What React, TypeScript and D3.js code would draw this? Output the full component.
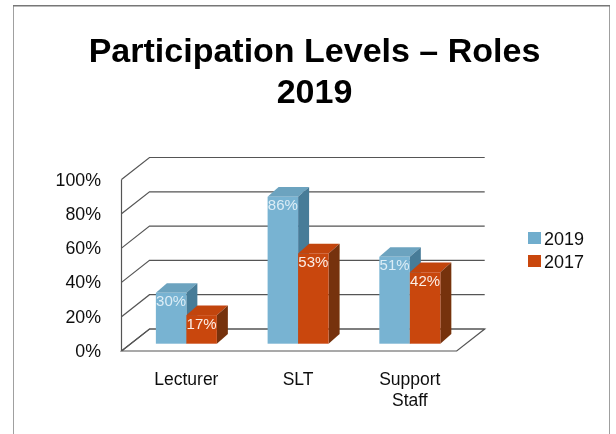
import React from "react";
import * as d3 from "d3";

const categories = [["Lecturer"], ["SLT"], ["Support", "Staff"]];
const seriesNames = ["2019", "2017"];
const values2019 = [30, 86, 51];
const values2017 = [17, 53, 42];
const yTicks = [0, 20, 40, 60, 80, 100];

const W = 616, H = 434;
const FONT = "'Liberation Sans', Arial, sans-serif";
const plotLeft = 121.5, plotRight = 456.7, plotBottom = 351, plotTop = 179.5;
const wallDx = 28, wallDy = -22;
const barDx = 11, barDy = -9.7;
const barBaseLift = 7.3;

const palette = [
  { front: "#78b3d2", top: "#6ca3bf", side: "#477b98", legend: "#6fadcd" },
  { front: "#c9470f", top: "#c2440f", side: "#76320a", legend: "#c9470f" },
];

const y = d3.scaleLinear().domain([0, 100]).range([plotBottom, plotTop]);
const x0 = d3.scaleBand<number>().domain([0, 1, 2]).range([plotLeft, plotRight]).paddingInner(0).paddingOuter(0);
const barsWidth = 61;
const x1 = d3.scaleBand<number>().domain([0, 1]).range([0, barsWidth]);
const groupLeft = (i: number) => (x0(i) as number) + x0.bandwidth() / 2 - barsWidth / 2 + 9;
const path = d3.line();

function Bar({ cat, ser, value }: { cat: number; ser: number; value: number }) {
  const c = palette[ser];
  const l = groupLeft(cat) + (x1(ser) as number);
  const r = l + x1.bandwidth();
  const b = plotBottom - barBaseLift;
  const t = y(value) - barBaseLift + 0.6;
  const top = path([[l, t], [r, t], [r + barDx, t + barDy], [l + barDx, t + barDy]]) + "Z";
  const side = path([[r, t], [r + barDx, t + barDy], [r + barDx, b + barDy], [r, b]]) + "Z";
  return (
    <g>
      <path d={top} fill={c.top} />
      <path d={side} fill={c.side} />
      <rect x={l} y={t} width={x1.bandwidth()} height={b - t} fill={c.front} />
      <text x={(l + r) / 2} y={t + 13.5} textAnchor="middle" fontSize={15} fill={ser === 0 ? "#dcedf6" : "#fbeee6"} fontFamily={FONT}>
        {value}%
      </text>
    </g>
  );
}

export default function App() {
  const floor = path([
    [plotLeft, plotBottom],
    [plotRight, plotBottom],
    [plotRight + wallDx, plotBottom + wallDy],
    [plotLeft + wallDx, plotBottom + wallDy],
  ]) + "Z";
  return (
    <svg width={W} height={H} viewBox={`0 0 ${W} ${H}`} style={{ position: "absolute", left: 0, top: 0, background: "#fff" }}>
      <defs>
        <filter id="soft" x="0" y="0" width="100%" height="100%">
          <feGaussianBlur stdDeviation="0.45" />
        </filter>
      </defs>
      <g filter="url(#soft)">
        <path d={`M13,${H}V5.7H610V${H}`} fill="none" stroke="#777" strokeWidth={1.4} />

        <text x={314.5} y={62} textAnchor="middle" fontSize={34} fontWeight={700} fill="#000" fontFamily={FONT}>
          Participation Levels – Roles
        </text>
        <text x={314.5} y={103} textAnchor="middle" fontSize={34} fontWeight={700} fill="#000" fontFamily={FONT}>
          2019
        </text>

        <path d={floor} fill="none" stroke="#555" strokeWidth={1.2} />
        <line x1={plotLeft} x2={plotLeft} y1={plotTop} y2={plotBottom} stroke="#555" strokeWidth={1.2} />
        {yTicks.map((t) => (
          <g key={t}>
            <path
              d={path([[plotLeft, y(t)], [plotLeft + wallDx, y(t) + wallDy], [plotRight + wallDx, y(t) + wallDy]]) as string}
              fill="none"
              stroke="#555"
              strokeWidth={1.2}
            />
            <text x={101} y={y(t) + 6} textAnchor="end" fontSize={17.8} fill="#111" fontFamily={FONT}>
              {t}%
            </text>
          </g>
        ))}

        {categories.map((_, i) => (
          <g key={i}>
            <Bar cat={i} ser={0} value={values2019[i]} />
            <Bar cat={i} ser={1} value={values2017[i]} />
          </g>
        ))}

        {categories.map((lines, i) => (
          <text key={i} textAnchor="middle" fontSize={17.5} fill="#111" fontFamily={FONT}>
            {lines.map((s, j) => (
              <tspan key={j} x={groupLeft(i) + barsWidth / 2} y={385 + j * 21}>
                {s}
              </tspan>
            ))}
          </text>
        ))}

        {seriesNames.map((s, i) => (
          <g key={s}>
            <rect x={528} y={232 + i * 23} width={13} height={12} fill={palette[i].legend} />
            <text x={544} y={245 + i * 22.5} fontSize={18} fill="#111" fontFamily={FONT}>
              {s}
            </text>
          </g>
        ))}
      </g>
    </svg>
  );
}
